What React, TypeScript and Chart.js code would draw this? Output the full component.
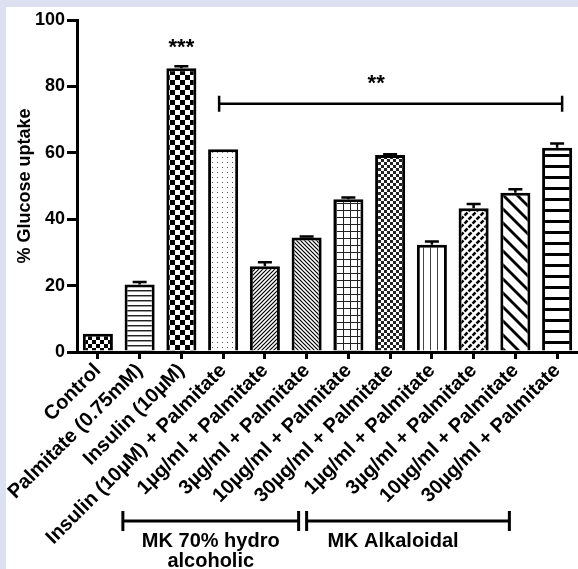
import { useEffect, useRef } from 'react';
import { Chart, registerables } from 'chart.js';
Chart.register(...registerables);

const categories = [
  'Control',
  'Palmitate (0.75mM)',
  'Insulin (10µM)',
  'Insulin (10µM) + Palmitate',
  '1µg/ml + Palmitate',
  '3µg/ml + Palmitate',
  '10µg/ml + Palmitate',
  '30µg/ml + Palmitate',
  '1µg/ml + Palmitate',
  '3µg/ml + Palmitate',
  '10µg/ml + Palmitate',
  '30µg/ml + Palmitate',
];
const uptake = [5.5, 20.3, 85.5, 61.1, 25.8, 34.5, 46.0, 59.3, 32.3, 43.3, 48.0, 61.5];
const sem = [0.2, 0.8, 0.6, 0.2, 1.2, 0.3, 0.5, 0.3, 1.0, 1.3, 1.0, 1.3];
const yTicks = [0, 20, 40, 60, 80, 100];
const patternKinds = ['checkS', 'hlines', 'checkL', 'dots', 'diagF', 'diagB', 'grid', 'checkF', 'vlines', 'weave', 'diagBWide', 'hlinesThick'];
const yTitle = '% Glucose uptake';
const sigMarks = ['***', '**'];
const groupLabels = ['MK 70% hydro', 'alcoholic', 'MK Alkaloidal'];

const FONT = "'Liberation Sans', Arial, sans-serif";

function makePattern(kind: string): CanvasPattern | string {
  const c = document.createElement('canvas');
  const g = c.getContext('2d')!;
  const set = (w: number, h: number) => {
    c.width = w; c.height = h;
    g.fillStyle = '#fff'; g.fillRect(0, 0, w, h);
    g.fillStyle = '#000'; g.strokeStyle = '#000';
  };
  const line = (x1: number, y1: number, x2: number, y2: number) => {
    g.beginPath(); g.moveTo(x1, y1); g.lineTo(x2, y2); g.stroke();
  };
  const slash = (s: number) => { line(-1, s + 1, s + 1, -1); line(-s / 2 - 1, s / 2 + 1, s / 2 + 1, -s / 2 - 1); line(s / 2 - 1, s * 1.5 + 1, s * 1.5 + 1, s / 2 - 1); };
  const back = (s: number) => { line(-1, -1, s + 1, s + 1); line(s / 2 - 1, -s / 2 - 1, s * 1.5 + 1, s / 2 + 1); line(-s / 2 - 1, s / 2 - 1, s / 2 + 1, s * 1.5 + 1); };
  switch (kind) {
    case 'checkS': set(8, 8); g.fillRect(0, 0, 4, 4); g.fillRect(4, 4, 4, 4); break;
    case 'checkL': set(10, 10); g.fillRect(0, 0, 5, 5); g.fillRect(5, 5, 5, 5); break;
    case 'checkF': set(6, 6); g.fillStyle = '#222'; g.fillRect(0, 0, 3, 3); g.fillRect(3, 3, 3, 3); break;
    case 'hlines': set(4, 5); g.fillStyle = '#222'; g.fillRect(0, 0, 4, 1); g.fillStyle = '#999'; g.fillRect(0, 1, 4, 1); break;
    case 'hlinesThick': set(4, 11); g.fillRect(0, 0, 4, 3); break;
    case 'vlines': set(7, 4); g.fillStyle = '#444'; g.fillRect(3, 0, 1, 4); break;
    case 'dots': set(5, 5); g.fillStyle = '#555'; g.fillRect(2, 2, 1, 1); break;
    case 'grid': set(7, 7); g.fillStyle = '#222'; g.fillRect(0, 0, 7, 1); g.fillRect(0, 0, 1, 7); break;
    case 'diagF': set(4, 4); g.lineWidth = 1.2; slash(4); break;
    case 'diagB': set(4, 4); g.lineWidth = 1.2; back(4); break;
    case 'diagBWide': set(14, 14); g.lineWidth = 2.8; back(14); break;
    case 'weave': set(8, 8); g.lineWidth = 2.6; slash(8); g.strokeStyle = '#fff'; g.lineWidth = 1.4; back(8); break;
    default: return '#fff';
  }
  const p = g.createPattern(c, 'repeat');
  return p || '#fff';
}

const decorPlugin = {
  id: 'decor',
  beforeDraw(chart: any) {
    const { ctx, width, height } = chart;
    ctx.save();
    ctx.fillStyle = '#fff';
    ctx.fillRect(0, 0, width, height);
    ctx.fillStyle = '#dce0f0';
    ctx.fillRect(0, 0, width, 7);
    ctx.fillRect(0, 0, 6, height);
    ctx.restore();
  },
  afterDatasetsDraw(chart: any) {
    const { ctx, scales } = chart;
    const x = scales.x, y = scales.y;
    ctx.save();
    ctx.strokeStyle = '#000';
    ctx.lineWidth = 2.5;
    uptake.forEach((v, i) => {
      const e = sem[i];
      if (e <= 0.25) return;
      const px = x.getPixelForValue(i);
      const top = y.getPixelForValue(v + e);
      const base = y.getPixelForValue(v);
      ctx.beginPath();
      ctx.moveTo(px, base);
      ctx.lineTo(px, top);
      ctx.moveTo(px - 7, top);
      ctx.lineTo(px + 7, top);
      ctx.stroke();
    });
    ctx.fillStyle = '#000';
    ctx.textAlign = 'center';
    ctx.textBaseline = 'middle';
    ctx.font = `bold 22px ${FONT}`;
    ctx.fillText(sigMarks[0], x.getPixelForValue(2), y.getPixelForValue(91.5));
    const by = y.getPixelForValue(74.8);
    const bl = x.getPixelForValue(3) - 4;
    const br = x.getPixelForValue(11) + 5;
    ctx.beginPath();
    ctx.moveTo(bl, by); ctx.lineTo(br, by);
    ctx.moveTo(bl, by - 8); ctx.lineTo(bl, by + 8);
    ctx.moveTo(br, by - 8); ctx.lineTo(br, by + 8);
    ctx.stroke();
    ctx.fillText(sigMarks[1], x.getPixelForValue(7) - 14, y.getPixelForValue(80.8));
    ctx.restore();
  },
  afterDraw(chart: any) {
    const { ctx, scales, chartArea } = chart;
    const x = scales.x;
    const gy = chartArea.bottom + 169;
    ctx.save();
    ctx.strokeStyle = '#000';
    ctx.lineWidth = 3;
    const brackets = [
      [x.getPixelForValue(0) + 25, x.getPixelForValue(5) - 8],
      [x.getPixelForValue(5), x.getPixelForValue(10) - 6],
    ];
    brackets.forEach(([l, r]) => {
      ctx.beginPath();
      ctx.moveTo(l, gy); ctx.lineTo(r, gy);
      ctx.moveTo(l, gy - 10); ctx.lineTo(l, gy + 10);
      ctx.moveTo(r, gy - 10); ctx.lineTo(r, gy + 10);
      ctx.stroke();
    });
    ctx.fillStyle = '#000';
    ctx.font = `bold 20px ${FONT}`;
    ctx.textAlign = 'center';
    ctx.textBaseline = 'middle';
    const c1 = (brackets[0][0] + brackets[0][1]) / 2;
    const c2 = (brackets[1][0] + brackets[1][1]) / 2;
    ctx.fillText(groupLabels[0], c1, gy + 20);
    ctx.fillText(groupLabels[1], c1, gy + 40);
    ctx.fillText(groupLabels[2], c2 - 15, gy + 20);
    ctx.restore();
  },
};

export default function App() {
  const ref = useRef<HTMLCanvasElement>(null);
  useEffect(() => {
    document.body.style.margin = '0';
    const canvas = ref.current!;
    const patterns = patternKinds.map(makePattern);
    const chart = new Chart(canvas, {
      type: 'bar',
      data: {
        labels: categories,
        datasets: [{
          data: uptake,
          backgroundColor: patterns as any,
          borderColor: '#000',
          borderWidth: 3,
          barPercentage: 0.72,
          categoryPercentage: 1,
        }],
      },
      options: {
        animation: false,
        responsive: false,
        devicePixelRatio: 1,
        layout: { padding: { top: 20, right: 0, bottom: 0, left: 0 } },
        plugins: { legend: { display: false }, tooltip: { enabled: false } },
        scales: {
          x: {
            afterFit: (s: any) => { s.height = 217; },
            grid: { offset: false, drawOnChartArea: false, drawTicks: true, tickLength: 7, tickWidth: 3, tickColor: '#000', lineWidth: 3 },
            border: { display: true, color: '#000', width: 3 },
            ticks: {
              color: '#000',
              font: { family: FONT, size: 20, weight: 'bold' },
              maxRotation: 45,
              minRotation: 45,
              autoSkip: false,
              padding: 0,
            },
          },
          y: {
            min: 0,
            max: 100,
            afterFit: (s: any) => { s.width = 77; },
            afterBuildTicks: (s: any) => { s.ticks = yTicks.map((v) => ({ value: v })); },
            grid: { drawOnChartArea: false, drawTicks: true, tickLength: 10, tickWidth: 3, tickColor: '#000', lineWidth: 3 },
            border: { display: true, color: '#000', width: 3 },
            ticks: {
              color: '#000',
              font: { family: FONT, size: 18, weight: 'bold' },
              padding: 2,
            },
            title: {
              display: true,
              text: yTitle,
              color: '#000',
              font: { family: FONT, size: 18, weight: 'bold' },
              padding: { top: 14, bottom: 0 },
            },
          },
        },
      },
      plugins: [decorPlugin],
    } as any);
    return () => chart.destroy();
  }, []);
  return (
    <div style={{ width: 578, height: 569 }}>
      <canvas ref={ref} width={578} height={569} style={{ display: 'block' }} />
    </div>
  );
}
